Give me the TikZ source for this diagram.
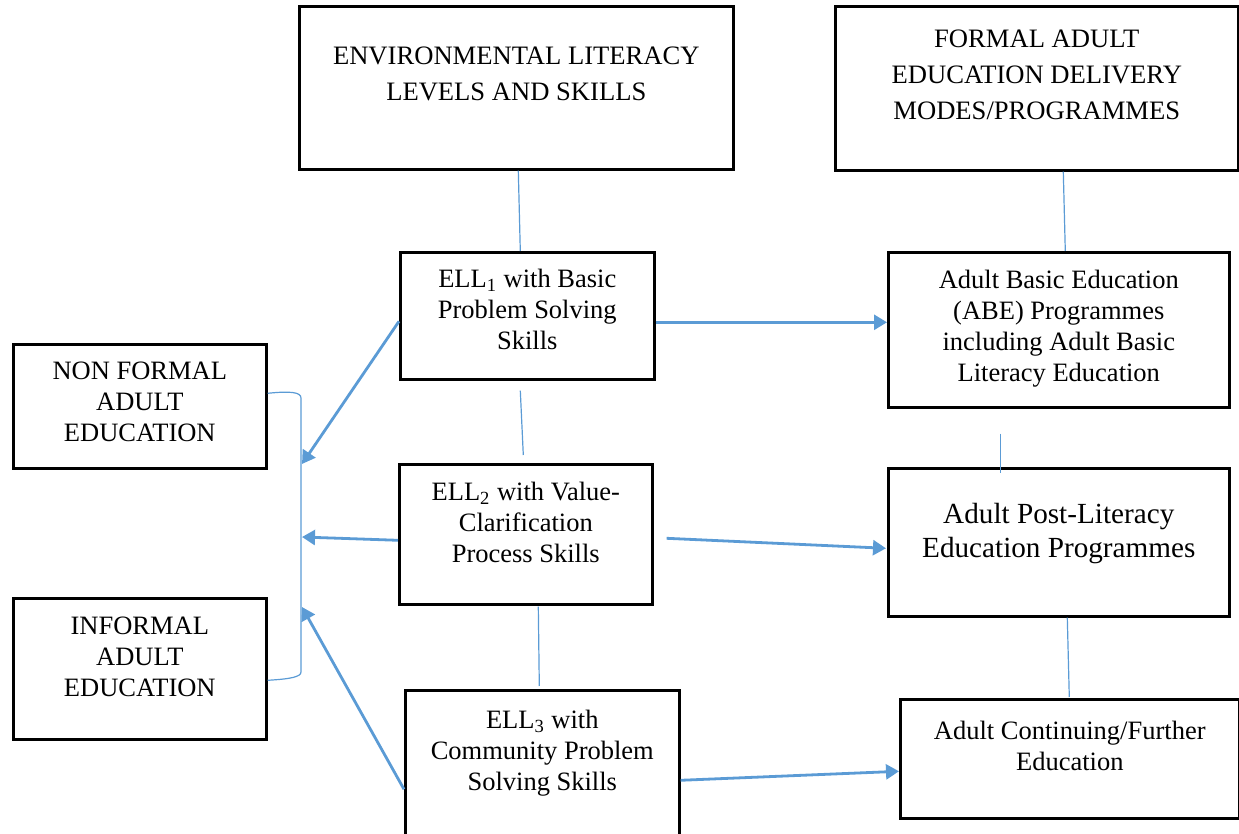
\documentclass[tikz,border=0pt]{standalone}
\usepackage{fontspec}
\setmainfont{Liberation Serif}
\usetikzlibrary{calc,arrows.meta}
\definecolor{lineblue}{HTML}{5B9BD5}
\newcommand{\boxtxt}[4]{\parbox[t][#2][t]{#1}{\centering\vspace*{#3}\strut#4}}

\begin{document}
\begin{tikzpicture}[x=0.5pt, y=-0.5pt,
    box/.style={draw=black, line width=1.3pt, inner sep=0pt, anchor=north west,
      font=\fontsize{13.25}{15.5}\selectfont},
    head/.style={box, font=\fontsize{13.3}{18}\selectfont},
    link/.style={draw=lineblue, line width=0.6pt},
    flow/.style={draw=lineblue, line width=1.4pt, -{Triangle[length=6.5pt,width=7.5pt]}}]
  \path[use as bounding box, clip] (0,0) rectangle (1239,834);

  % headings
  \node[head] (env) at (298,5) {\boxtxt{217pt}{81.5pt}{16.6pt}{ENVIRONMENTAL LITERACY\\LEVELS AND SKILLS}};
  \node[head] (formal) at (834,5) {\boxtxt{201.5pt}{82pt}{8.2pt}{FORMAL ADULT\\EDUCATION DELIVERY\\MODES/PROGRAMMES}};

  % literacy levels
  \node[box] (ell1) at (399,251) {\boxtxt{127pt}{63.5pt}{6.65pt}{ELL\textsubscript{1} with Basic\\Problem Solving\\Skills}};
  \node[box] (ell2) at (398,463) {\boxtxt{126.5pt}{70pt}{7.15pt}{ELL\textsubscript{2} with Value-\\Clarification\\Process Skills}};
  \node[box] (ell3) at (404,689) {\boxtxt{137pt}{80pt}{8.15pt}{ELL\textsubscript{3} with\\Community Problem\\Solving Skills}};

  % formal programmes
  \node[box] (abe) at (887,251) {\boxtxt{170.5pt}{77.5pt}{7.15pt}{Adult Basic Education\\(ABE) Programmes\\including Adult Basic\\Literacy Education}};
  \node[box, font=\fontsize{14.6}{17}\selectfont] (post) at (887,467) {\boxtxt{170.5pt}{74pt}{15.6pt}{Adult Post-Literacy\\Education Programmes}};
  \node[box] (cont) at (899,698) {\boxtxt{169.5pt}{59.5pt}{9.15pt}{Adult Continuing/Further\\Education}};

  % non formal and informal
  \node[box] (nonf) at (12,343) {\boxtxt{126.5pt}{62pt}{6.65pt}{NON FORMAL\\ADULT\\EDUCATION}};
  \node[box] (inf) at (12,597) {\boxtxt{126.5pt}{70.5pt}{7.15pt}{INFORMAL\\ADULT\\EDUCATION}};

  % bracket
  \draw[link] ($(nonf.east)+(0,-13)$) .. controls (290,391) and (301,392) .. (301,398)
    -- (301,672) .. controls (301,677) and (290,679) .. ($(inf.east)+(0,11.5)$);
  \coordinate (brtop) at (302,464);
  \coordinate (brmid) at (302,537);
  \coordinate (brlow) at (302,607);

  % thin links
  \draw[link] ($(env.south)+(2,0)$) -- ($(ell1.north)+(-7,0)$);
  \draw[link] ($(ell1.south)+(-7,10)$) -- ($(ell2.north)+(-2.5,-8)$);
  \draw[link] ($(ell2.south)+(12.5,1)$) -- ($(ell3.north)+(-3,-3)$);
  \draw[link] ($(formal.south)+(26.5,0)$) -- ($(abe.north)+(6.5,0)$);
  \draw[link] ($(abe.south)+(-58.5,25)$) -- ($(post.north)+(-58.5,6)$);
  \draw[link] ($(post.south)+(8.5,0)$) -- ($(cont.north)+(-0.5,-1)$);

  % arrows
  \draw[flow] ($(ell1.west)+(0,5.5)$) -- (brtop);
  \draw[flow] ($(ell2.west)+(0,6)$) -- (brmid);
  \draw[flow] ($(ell3.west)+(0,19)$) -- (brlow);
  \draw[flow] ($(ell1.east)+(0,6.5)$) -- ($(abe.west)+(0,-7.5)$);
  \draw[flow] ($(ell2.east)+(13,4)$) -- ($(post.west)+(-1,6)$);
  \draw[flow] ($(ell3.east)+(0,10)$) -- ($(cont.west)+(0,12.5)$);
\end{tikzpicture}
\end{document}
